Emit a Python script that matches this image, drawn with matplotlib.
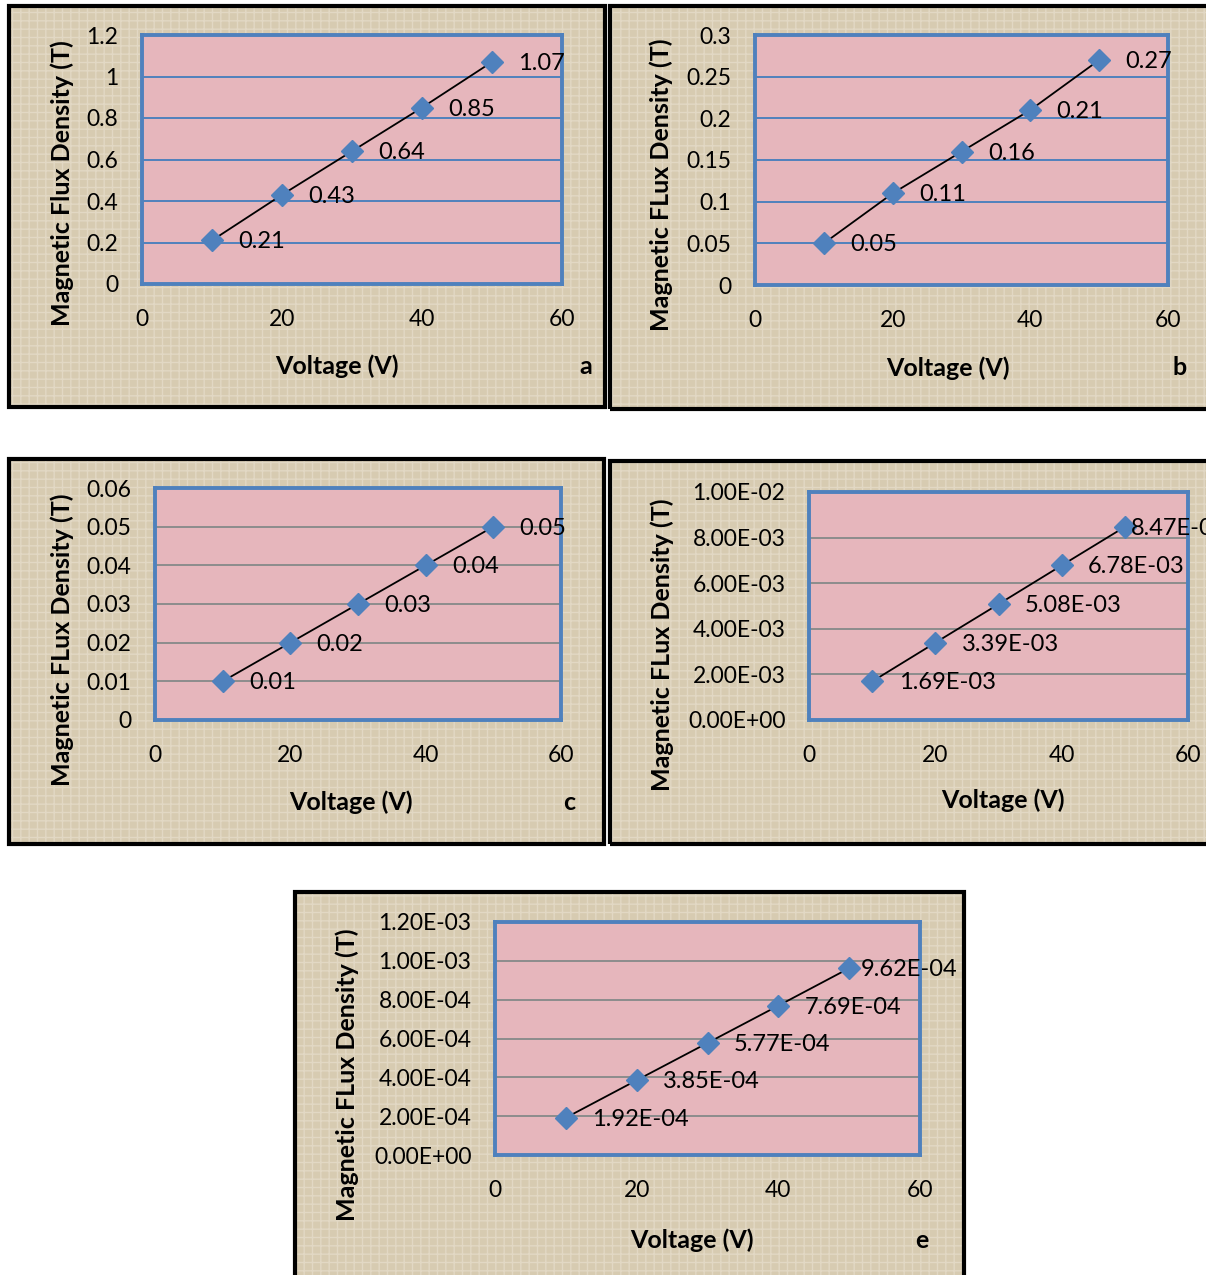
import numpy as np
import matplotlib.pyplot as plt
from matplotlib.patches import Rectangle
from matplotlib.ticker import FixedLocator, FixedFormatter

W, H = 1206, 1275

# data
voltage = [10, 20, 30, 40, 50]

flux_a = [0.21, 0.43, 0.64, 0.85, 1.07]
flux_b = [0.05, 0.11, 0.16, 0.21, 0.27]
flux_c = [0.01, 0.02, 0.03, 0.04, 0.05]
flux_d = [1.69e-3, 3.39e-3, 5.08e-3, 6.78e-3, 8.47e-3]
flux_e = [1.92e-4, 3.85e-4, 5.77e-4, 7.69e-4, 9.62e-4]

labels_a = ["0.21", "0.43", "0.64", "0.85", "1.07"]
labels_b = ["0.05", "0.11", "0.16", "0.21", "0.27"]
labels_c = ["0.01", "0.02", "0.03", "0.04", "0.05"]
labels_d = ["1.69E-03", "3.39E-03", "5.08E-03", "6.78E-03", "8.47E-03"]
labels_e = ["1.92E-04", "3.85E-04", "5.77E-04", "7.69E-04", "9.62E-04"]

yticks_a = [0, 0.2, 0.4, 0.6, 0.8, 1.0, 1.2]
ytick_labels_a = ["0", "0.2", "0.4", "0.6", "0.8", "1", "1.2"]
yticks_b = [0, 0.05, 0.1, 0.15, 0.2, 0.25, 0.3]
ytick_labels_b = ["0", "0.05", "0.1", "0.15", "0.2", "0.25", "0.3"]
yticks_c = [0, 0.01, 0.02, 0.03, 0.04, 0.05, 0.06]
ytick_labels_c = ["0", "0.01", "0.02", "0.03", "0.04", "0.05", "0.06"]
yticks_d = [0, 2e-3, 4e-3, 6e-3, 8e-3, 1e-2]
ytick_labels_d = ["0.00E+00", "2.00E-03", "4.00E-03", "6.00E-03", "8.00E-03", "1.00E-02"]
yticks_e = [0, 2e-4, 4e-4, 6e-4, 8e-4, 1e-3, 1.2e-3]
ytick_labels_e = ["0.00E+00", "2.00E-04", "4.00E-04", "6.00E-04", "8.00E-04", "1.00E-03", "1.20E-03"]

xticks = [0, 20, 40, 60]

plt.rcParams['font.family'] = ['Lato', 'DejaVu Sans']

BEIGE = "#d7cbb1"
PINK = "#e6b6bc"
BLUE = "#4f81bd"
GRAY = "#8c8c8c"
FS_TICK = 16.5
FS_DATA = 17
FS_LAB = 18

fig = plt.figure(figsize=(W / 100, H / 100), dpi=100, facecolor="white")


def fx(x):
    return x / W


def fy(y):
    return 1 - y / H


def panel(frame, box, y, labels, yticks, ytlabels, gridc, ylab, ylab_pos,
          xlab_pos, letter, letter_pos, last_off=19):
    # frame with textured beige background
    x0, y0, x1, y1 = frame
    rect = ((fx(x0), fy(y1)), fx(x1 - x0), (y1 - y0) / H)
    fig.patches.append(Rectangle(*rect, transform=fig.transFigure, facecolor=BEIGE,
                                 edgecolor="none", zorder=0))
    fig.patches.append(Rectangle(*rect, transform=fig.transFigure, fill=False,
                                 hatch="++", edgecolor="#e2d8c4", linewidth=0,
                                 zorder=0.5))
    fig.patches.append(Rectangle(*rect, transform=fig.transFigure, fill=False,
                                 edgecolor="black", linewidth=3, zorder=1))

    l, t, r, b = box
    ax = fig.add_axes([fx(l), fy(b), fx(r - l), (b - t) / H])
    ax.set_zorder(3)
    ax.set_facecolor(PINK)
    ax.set_xlim(0, 60)
    ax.set_ylim(yticks[0], yticks[-1])
    ax.xaxis.set_major_locator(FixedLocator(xticks))
    ax.yaxis.set_major_locator(FixedLocator(yticks))
    ax.yaxis.set_major_formatter(FixedFormatter(ytlabels))
    ax.tick_params(length=0, labelsize=FS_TICK, colors="black")
    ax.tick_params(axis="x", pad=18)
    ax.tick_params(axis="y", pad=17)
    for s in ax.spines.values():
        s.set_color(BLUE)
        s.set_linewidth(2.8)
    for yt in yticks[1:-1]:
        ax.axhline(yt, color=gridc, linewidth=1.4, zorder=1)

    ax.plot(voltage, y, color="black", linewidth=1.3, zorder=2)
    ax.plot(voltage, y, linestyle="none", marker="D", markersize=11,
            color=BLUE, zorder=3)
    for i, (xv, yv, lab) in enumerate(zip(voltage, y, labels)):
        off = last_off if i == len(labels) - 1 else 19
        ax.annotate(lab, (xv, yv), xytext=(off, -1), textcoords="offset points",
                    ha="left", va="center", fontsize=FS_DATA, zorder=4,
                    annotation_clip=False)

    fig.text(fx(ylab_pos[0]), fy(ylab_pos[1]), ylab, rotation=90, ha="center",
             va="center", fontsize=FS_LAB, fontweight="bold", zorder=4)
    fig.text(fx(xlab_pos[0]), fy(xlab_pos[1]), "Voltage (V)", ha="center",
             va="center", fontsize=FS_LAB, fontweight="bold", zorder=4)
    fig.text(fx(letter_pos[0]), fy(letter_pos[1]), letter, ha="center",
             va="center", fontsize=FS_LAB, fontweight="bold", zorder=4)
    return ax


panel((9, 6, 605, 407), (142, 35, 562, 284), flux_a, labels_a, yticks_a, ytick_labels_a,
      BLUE, "Magnetic Flux Density (T)", (62, 183), (337, 366), "a", (586, 367))
panel((610, 6, 1215, 409), (755, 35, 1168, 285), flux_b, labels_b, yticks_b, ytick_labels_b,
      BLUE, "Magnetic FLux Density (T)", (661, 185), (948, 368), "b", (1180, 368))
panel((9, 459, 604, 844), (155, 488, 561, 720), flux_c, labels_c, yticks_c, ytick_labels_c,
      GRAY, "Magnetic FLux Density (T)", (62, 640), (351, 802), "c", (569, 803))
panel((610, 461, 1215, 844), (809, 492, 1188, 720), flux_d, labels_d, yticks_d, ytick_labels_d,
      GRAY, "Magnetic FLux Density (T)", (662, 645), (1003, 800), "d", (1212, 800),
      last_off=4)
panel((295, 892, 964, 1290), (495, 922, 920, 1155), flux_e, labels_e, yticks_e, ytick_labels_e,
      GRAY, "Magnetic FLux Density (T)", (347, 1075), (692, 1240), "e", (922, 1240),
      last_off=8)

fig.savefig("out.png", dpi=100, facecolor="white")
